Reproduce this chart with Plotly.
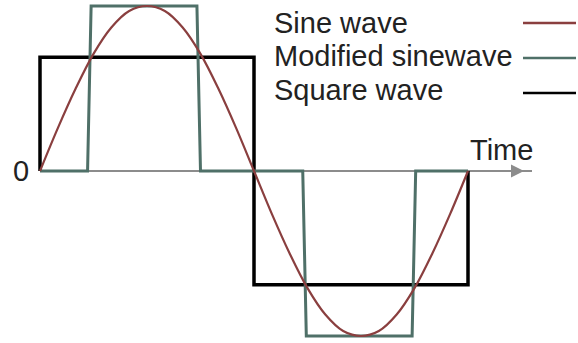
import plotly.graph_objects as go

# Time in degrees of one cycle
sine_t = [0, 15, 30, 45, 60, 75, 90, 105, 120, 135, 150, 165, 180,
          195, 210, 225, 240, 255, 270, 285, 300, 315, 330, 345, 360]
sine_v = [0, 0.26, 0.5, 0.71, 0.87, 0.97, 1.0, 0.97, 0.87, 0.71, 0.5, 0.26, 0,
          -0.26, -0.5, -0.71, -0.87, -0.97, -1.0, -0.97, -0.87, -0.71, -0.5, -0.26, 0]

mod_t = [0, 40, 43, 132, 135, 221, 224, 313, 316, 360]
mod_v = [0, 0, 1.0, 1.0, 0, 0, -1.0, -1.0, 0, 0]

sq_t = [0, 0, 180, 180, 360, 360]
sq_v = [0, 0.69, 0.69, -0.69, -0.69, 0]

legend_labels = ["Sine wave", "Modified sinewave", "Square wave"]
colors = ["#8a3f3f", "#4f7068", "#000000"]

W, H = 578, 343
X0, PXDEG = 40, 214 / 180
Y0, PXUNIT = 171, 165

def px_to_x(px):
    return (px - X0) / PXDEG

def px_to_y(py):
    return (Y0 - py) / PXUNIT

fig = go.Figure()

# axis line (gray) with arrow
fig.add_shape(type="line", x0=0, y0=0, x1=px_to_x(532), y1=0,
              line=dict(color="#8c8c8c", width=2), layer="below")
fig.add_annotation(x=px_to_x(524), y=0, ax=px_to_x(505), ay=0,
                   xref="x", yref="y", axref="x", ayref="y",
                   showarrow=True, arrowhead=2, arrowsize=1.3, arrowwidth=2,
                   arrowcolor="#8c8c8c", text="")

fig.add_trace(go.Scatter(x=sq_t, y=sq_v, mode="lines",
                         line=dict(color=colors[2], width=3.5), name=legend_labels[2]))
fig.add_trace(go.Scatter(x=mod_t, y=mod_v, mode="lines",
                         line=dict(color=colors[1], width=3), name=legend_labels[1]))
fig.add_trace(go.Scatter(x=sine_t, y=sine_v, mode="lines", line_shape="spline",
                         line=dict(color=colors[0], width=2.2), name=legend_labels[0]))

font = dict(family="Liberation Sans, Arial, sans-serif", size=29, color="#222222")

# custom legend: text left, line sample right
text_y = [23, 56, 90]
line_y = [23, 58, 93]
for lab, col, ty, ly in zip(legend_labels, colors, text_y, line_y):
    fig.add_annotation(x=272 / W, y=1 - ty / H, xref="paper", yref="paper",
                       text=lab, showarrow=False, xanchor="left", yanchor="middle",
                       font=font)
    fig.add_shape(type="line", xref="paper", yref="paper",
                  x0=523 / W, x1=576 / W, y0=1 - ly / H, y1=1 - ly / H,
                  line=dict(color=col, width=2.5))

fig.add_annotation(x=px_to_x(31), y=0, xref="x", yref="y", text="0",
                   showarrow=False, xanchor="right", yanchor="middle", font=font)
fig.add_annotation(x=px_to_x(468), y=px_to_y(150), xref="x", yref="y", text="Time",
                   showarrow=False, xanchor="left", yanchor="middle", font=font)

fig.update_layout(
    width=W, height=H, margin=dict(l=0, r=0, t=0, b=0),
    paper_bgcolor="white", plot_bgcolor="white", showlegend=False,
    xaxis=dict(range=[px_to_x(0), px_to_x(W)], visible=False, fixedrange=True),
    yaxis=dict(range=[px_to_y(H), px_to_y(0)], visible=False, fixedrange=True),
)

fig.write_html("out.html", config={"displayModeBar": False},
               post_script="document.body.style.margin='0';document.body.style.overflow='hidden';")
